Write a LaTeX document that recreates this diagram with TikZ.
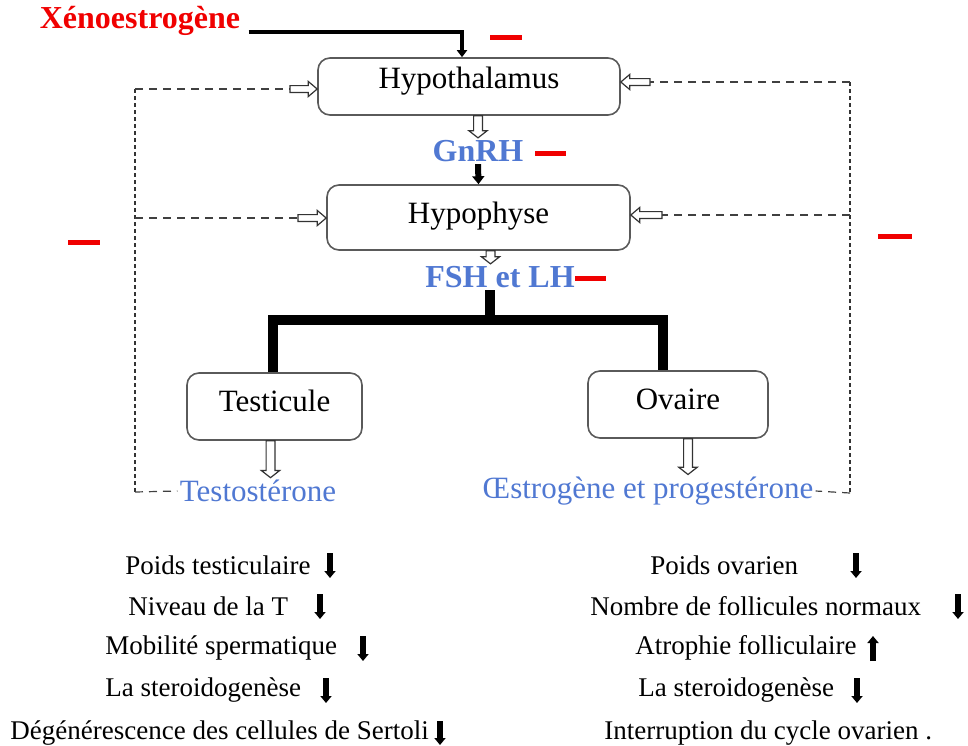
\documentclass[tikz,border=0pt]{standalone}
\usepackage{fontspec}
\setmainfont{Liberation Serif}
\usetikzlibrary{arrows.meta,positioning,calc}

\definecolor{hormblue}{RGB}{80,120,210}
\definecolor{inhibred}{RGB}{240,0,0}
\definecolor{boxgray}{RGB}{90,90,90}

\begin{document}
\begin{tikzpicture}[
    x=0.5pt, y=-0.5pt,
    organ/.style={draw=boxgray, line width=0.8pt, rounded corners=6pt, fill=white,
        font=\fontsize{15.5}{18}\selectfont, text height=10pt, text depth=5.5pt},
    releasing/.style={text=hormblue, font=\fontsize{16}{19}\selectfont\bfseries, inner sep=1pt},
    secretion/.style={text=hormblue, font=\fontsize{15.5}{18}\selectfont, inner sep=1pt},
    % fleche evidee : demi-largeur du corps, demi-largeur de la pointe, longueur de la pointe
    blockarrow/.style n args={3}{draw=black!80, line width=0.6pt, fill=white, line join=miter,
        to path={($(\tikztotarget)!#3!(\tikztostart)$) coordinate (ah)
            ($(\tikztostart)!#1!90:(\tikztotarget)$) -- ($(ah)!#1!90:(\tikztotarget)$)
            -- ($(ah)!#2!90:(\tikztotarget)$) -- (\tikztotarget)
            -- ($(ah)!#2!-90:(\tikztotarget)$) -- ($(ah)!#1!-90:(\tikztotarget)$)
            -- ($(\tikztostart)!#1!-90:(\tikztotarget)$) -- cycle}},
    hollow/.style={blockarrow={2.2pt}{4.6pt}{3.6pt}},
    hollowsmall/.style={blockarrow={1.7pt}{3.8pt}{4.5pt}},
    push/.style={line width=3pt, -{Triangle[width=6pt, length=4pt]}},
    trunk/.style={line width=5pt, line join=miter},
    fbhor/.style={draw=black!75, line width=0.6pt, dash pattern=on 4pt off 3pt},
    fbvert/.style={draw=black!80, line width=1pt, dash pattern=on 2pt off 1.5pt},
    inhib/.style={draw=inhibred, line width=2.5pt},
    effect/.style={anchor=west, font=\fontsize{13.5}{16}\selectfont, inner sep=0pt},
    down/.style={line width=3pt, -{Triangle[width=5.5pt, length=3.5pt]}}
]
\useasboundingbox (0,0) rectangle (968,745);

% Axe hypothalamo-hypophysaire
\node[text=inhibred, font=\fontsize{16}{19}\selectfont\bfseries, inner sep=1pt] (xeno) at (140,21) {Xénoestrogène};
\node[organ, minimum width=151pt, minimum height=28.5pt, text depth=8.5pt] (hypo) at (469,86.5) {Hypothalamus};
\node[releasing] (gnrh) at (478,151) {GnRH};
\node[organ, minimum width=151.5pt, minimum height=32.5pt, text depth=4.5pt] (hypoph) at (478.5,217.5) {Hypophyse};
\node[releasing] (fshlh) at (500,277) {FSH et LH};

\draw[line width=2pt, -{Triangle[width=5pt, length=3.5pt]}] ([xshift=3pt, yshift=-5.5pt]xeno.east) -| ([xshift=-3.5pt]hypo.north);
\draw[hollow] (gnrh.north |- hypo.south) to (gnrh.north);
\draw[push] (gnrh.south) -- (hypoph.north);
\draw[hollow] ([xshift=6pt]hypoph.south) to ([xshift=6pt]hypoph.south |- fshlh.north);

% Gonades
\node[organ, minimum width=87.5pt, minimum height=33.5pt] (testi) at (274.5,406.5) {Testicule};
\node[organ, minimum width=90pt, minimum height=33.5pt] (ovaire) at (678,404.5) {Ovaire};
\coordinate (split) at (490,320);
\draw[trunk] ([xshift=-5pt]fshlh.south) -- (split);
\draw[trunk] ([xshift=-1pt]testi.north) |- (split) -| ([xshift=-7.5pt]ovaire.north);

\node[secretion] (testo) at (258,491) {Testostérone};
\node[secretion] (oestro) at (648,491) {Œstrogène et progestérone};
\draw[hollow] ([xshift=-2pt]testi.south) to ([xshift=-2pt]testi.south |- testo.north);
\draw[hollow] ([xshift=5pt]ovaire.south) to ([xshift=5pt]ovaire.south |- oestro.north);

% Retrocontrole
\coordinate (lt) at (135,89);
\coordinate (lm) at (135,218);
\coordinate (lb) at (135,492);
\draw[fbvert] (lt) -- (lb);
\draw[fbhor] (lb) -- (testo.west);
\draw[fbhor] (lt) -- (290,89) coordinate (lta);
\draw[hollowsmall] (lta) to (hypo.west |- lta);
\draw[fbhor] (lm) -- (298,218) coordinate (lma);
\draw[hollowsmall] (lma) to (hypoph.west |- lma);

\coordinate (rt) at (850,82);
\coordinate (rm) at (850,215);
\coordinate (rb) at (850,493);
\draw[fbvert] (rt) -- (rb);
\draw[fbhor] (rb) -- (oestro.east);
\draw[fbhor] (rt) -- (650,82) coordinate (rta);
\draw[hollowsmall] (rta) to (hypo.east |- rta);
\draw[fbhor] (rm) -- (662,215) coordinate (rma);
\draw[hollowsmall] (rma) to (hypoph.east |- rma);

% Inhibitions
\draw[inhib] (490,37) -- (522,37);
\draw[inhib] (535,153) -- (566,153);
\draw[inhib] (575,278) -- (606,278);
\draw[inhib] (68,242) -- (100,242);
\draw[inhib] (878,236) -- (912,236);

% Effets chez le male
\node[effect] (m1) at (125,565) {Poids testiculaire};
\node[effect] (m2) at (128,606) {Niveau de la T};
\node[effect] (m3) at (105,648) {Mobilité spermatique};
\node[effect] (m4) at (105,690) {La steroidogenèse};
\node[effect] (m5) at (10,733) {Dégénérescence des cellules de Sertoli};
\draw[down] (330,553) -- (330,578);
\draw[down] (320,594) -- (320,619);
\draw[down] (363,636) -- (363,661);
\draw[down] (326,678) -- (326,703);
\draw[down] (440,721) -- (440,745);

% Effets chez la femelle
\node[effect] (f1) at (650,565) {Poids ovarien};
\node[effect] (f2) at (590,606) {Nombre de follicules normaux};
\node[effect] (f3) at (635,648) {Atrophie folliculaire};
\node[effect] (f4) at (638,690) {La steroidogenèse};
\node[effect] (f5) at (604,733) {Interruption du cycle ovarien .};
\draw[down] (856,553) -- (856,578);
\draw[down] (958,594) -- (958,619);
\draw[down] (873,661) -- (873,636);
\draw[down] (857,678) -- (857,703);

\end{tikzpicture}
\end{document}
